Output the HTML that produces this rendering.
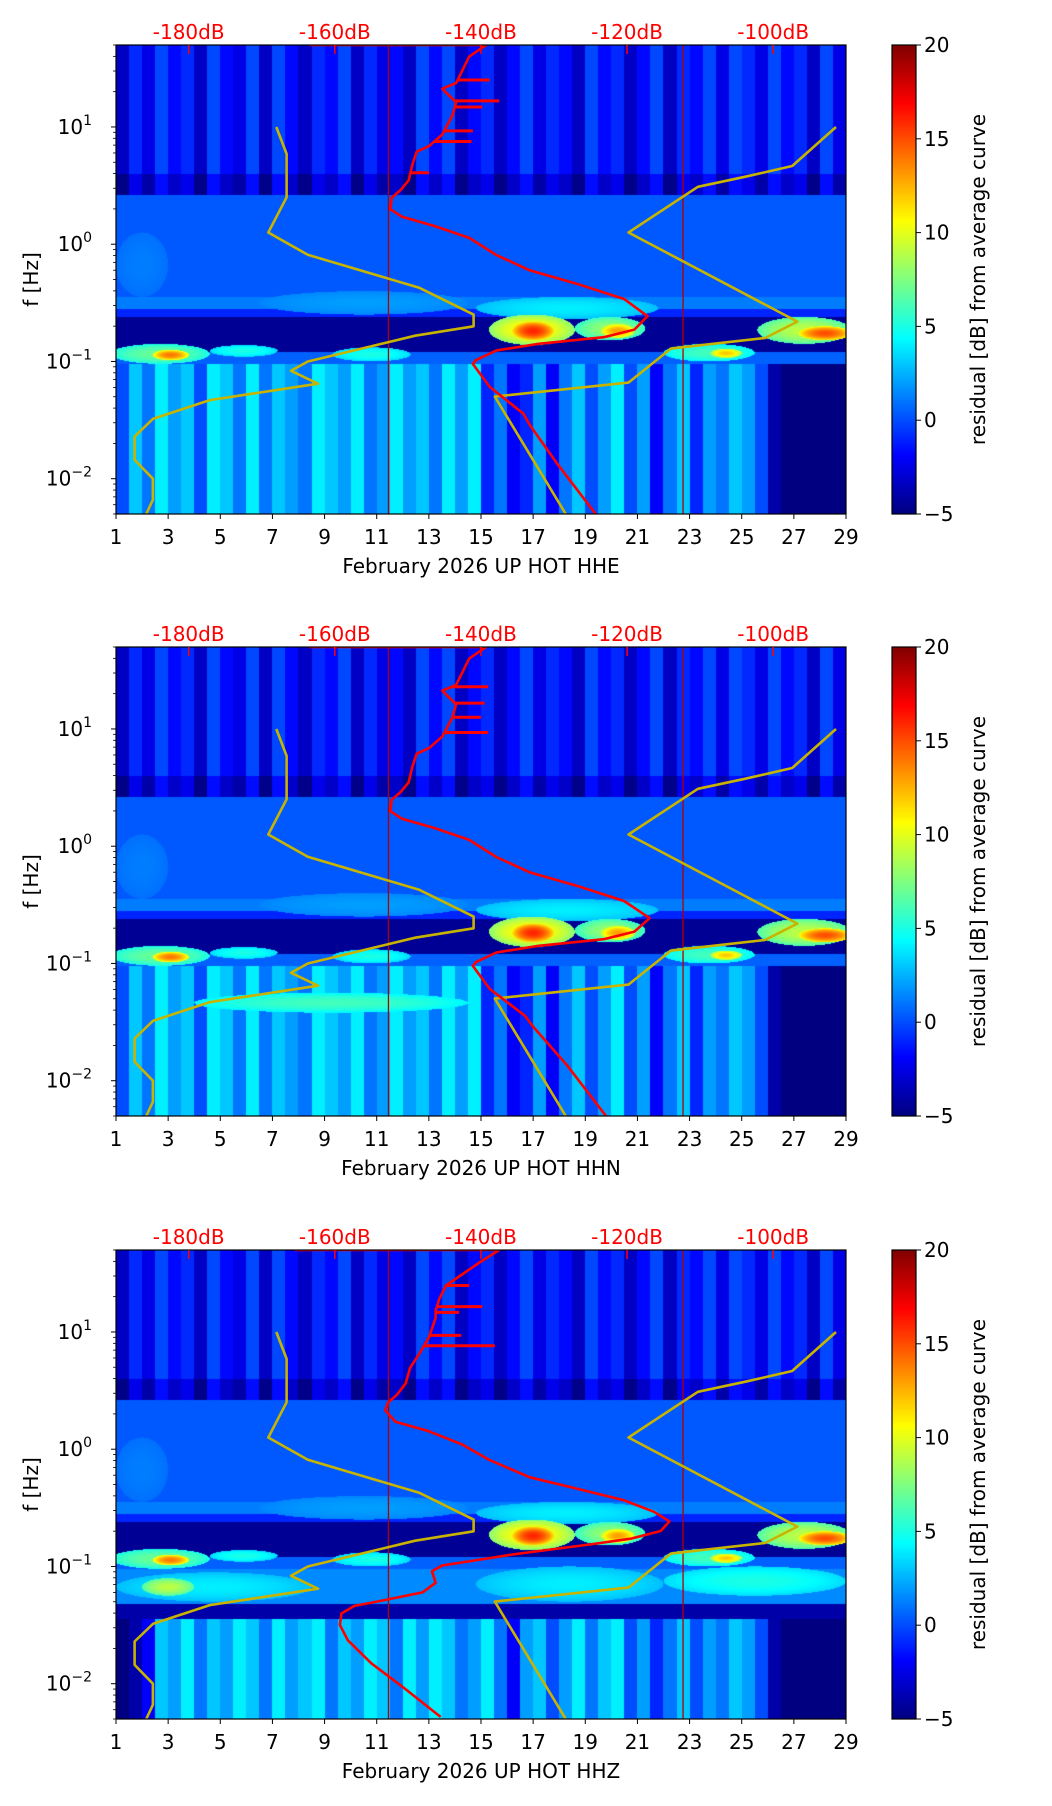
<!DOCTYPE html>
<html><head><meta charset="utf-8">
<style>
html,body{margin:0;padding:0;background:#fff;}
#wrap{position:relative;width:1052px;height:1806px;overflow:hidden;font-family:"DejaVu Sans","Liberation Sans",sans-serif;}
canvas{position:absolute;}
svg{position:absolute;left:0;top:0;}
</style></head>
<body>
<div id="wrap">
<svg id="svg" width="1052" height="1806"></svg>
</div>
<script>
// ---------- data ----------
const dayTicks=[1,3,5,7,9,11,13,15,17,19,21,23,25,27,29];
const dbTicks=[-180,-160,-140,-120,-100];
const cbTicks=[-5,0,5,10,15,20];
const yDecades=[1,0,-1,-2];
const panelNames=['HHE','HHN','HHZ'];

const redDbE=[-163.5,-139.3,-141.6,-143.4,-145.3,-143.4,-143.9,-145.3,-147.1,-148.8,-149.4,-149.9,-151.0,-152.2,-152.4,-150.8,-146.2,-141.6,-137.9,-133.3,-126.9,-120.4,-117.2,-119.0,-123.2,-132.4,-137.9,-140.7,-141.1,-138.8,-134.2,-133.3,-129.6,-124.3];
const redLfE=[1.699,1.699,1.60,1.375,1.326,1.21,1.098,0.935,0.837,0.788,0.674,0.544,0.462,0.397,0.299,0.234,0.152,0.054,-0.092,-0.223,-0.337,-0.467,-0.614,-0.728,-0.793,-0.852,-0.907,-0.989,-1.022,-1.217,-1.445,-1.543,-1.869,-2.30];
const spikeLfE=[1.40,1.222,1.17,0.967,0.876,0.609];
const spikeDbE=[-138.8,-137.5,-139.8,-141.1,-141.3,-147.1];

const redDbN=[-163.5,-139.3,-141.6,-143.4,-145.3,-143.4,-143.9,-145.3,-147.1,-148.8,-149.4,-149.9,-151.0,-152.2,-152.4,-150.8,-146.2,-141.6,-137.9,-133.3,-126.9,-120.4,-116.9,-119.0,-123.2,-132.4,-137.9,-140.7,-141.1,-138.8,-134.0,-132.8,-128.2,-122.9];
const redLfN=[1.699,1.699,1.60,1.375,1.326,1.21,1.098,0.935,0.837,0.788,0.674,0.544,0.462,0.397,0.299,0.234,0.152,0.054,-0.092,-0.223,-0.337,-0.467,-0.614,-0.728,-0.793,-0.852,-0.907,-0.989,-1.022,-1.217,-1.445,-1.543,-1.869,-2.30];
const spikeLfN=[1.36,1.22,1.10,0.97];
const spikeDbN=[-139.0,-139.5,-140.0,-139.0];

const redDbZ=[-165.5,-137.5,-140.2,-142.5,-144.8,-145.7,-146.2,-146.2,-147.1,-148.5,-149.7,-150.3,-151.5,-152.7,-153.1,-151.7,-147.1,-142.5,-138.8,-133.3,-127.8,-120.4,-116.3,-114.2,-115.4,-119.5,-125.0,-135.2,-145.3,-146.7,-146.2,-148.0,-154.5,-157.3,-159.1,-159.3,-158.2,-155.0,-150.8,-145.5];
const redLfZ=[1.699,1.699,1.592,1.494,1.396,1.281,1.183,1.118,0.954,0.807,0.692,0.562,0.464,0.398,0.333,0.235,0.153,0.038,-0.093,-0.240,-0.322,-0.436,-0.534,-0.616,-0.698,-0.763,-0.812,-0.894,-0.992,-1.041,-1.139,-1.221,-1.303,-1.336,-1.401,-1.499,-1.630,-1.826,-2.023,-2.284];
const spikeLfZ=[1.396,1.216,1.167,0.971,0.882];
const spikeDbZ=[-141.6,-139.8,-143.0,-142.7,-138.1];

const nlnmDb=[-168.0,-166.6,-166.6,-169.1,-163.7,-148.5,-141.0,-141.0,-149.0,-163.7,-166.0,-162.3,-177.1,-184.9,-187.4,-187.4,-184.9,-184.9,-185.8];
const nlnmLf=[1,0.77,0.40,0.10,-0.09,-0.37,-0.60,-0.70,-0.78,-1.0,-1.08,-1.19,-1.33,-1.49,-1.64,-1.84,-2.0,-2.18,-2.30];
const nhnmDb=[-91.4,-97.4,-103.8,-110.3,-119.8,-96.7,-101.1,-114.0,-119.8,-138.1,-128.4];
const nhnmLf=[1,0.667,0.576,0.49,0.10,-0.66,-0.80,-0.89,-1.18,-1.30,-2.30];

// spectrogram residual values (dB), per half-day
const highVals=[-1,2,0,3,1,2,-1,3,1,0,3,-1,3,1,-1,2,1,3,-1,2,0,1,-1,3,1,3,-1,1,2,-1,1,3,0,2,1,-1,3,1,2,-1,1,3,-1,2,1,3,0,3,2,0,3,1,2,-1,3,0];
const lowValsEN=[1,4,2,5,3,4,1,5,4,2,5,2,4,3,2,5,4,3,5,2,3,5,3,4,2,5,3,5,0,2,-1,0,3,-1,2,4,1,3,5,1,3,-1,2,4,0,3,2,4,3,1,-3,-5,-5,-4,-5,-4];
const lowValsZ=[-4,-3,-1,4,3,5,2,4,3,5,4,2,5,3,4,5,2,4,3,5,4,2,5,3,5,4,2,3,5,2,-1,3,4,1,3,5,2,4,5,1,3,0,2,4,1,3,2,4,3,1,-3,-5,-5,-4,-5,-4];
// blobs: day start, day end, log f low, log f high, value
const blobD0=[14.8,15.3,16.2,18.6,19.6,25.6,27.2,0.8,2.4,4.6,9.3,22,23.8,6.5,1];
const blobD1=[21.8,18.6,17.8,21.3,20.9,29.2,29.2,4.6,3.8,7.2,12.3,25.5,25,14.5,3];
const blobL0=[-0.64,-0.86,-0.82,-0.82,-0.8,-0.85,-0.82,-1.02,-0.99,-0.96,-1.0,-1.0,-0.97,-0.6,-0.45];
const blobL1=[-0.45,-0.6,-0.66,-0.62,-0.68,-0.62,-0.7,-0.85,-0.9,-0.86,-0.88,-0.85,-0.89,-0.4,0.1];
const blobV=[4,11,16,8,13,9,15,7,14,5,5,6,12,2,1.2];
const extraD0N=[4],extraD1N=[14.5],extraL0N=[-1.42],extraL1N=[-1.25],extraVN=[6];
const extraD0Z=[1,2,14.8,22],extraD1Z=[8.5,4,22,29],extraL0Z=[-1.3,-1.25,-1.3,-1.25],extraL1Z=[-1.05,-1.1,-1.0,-1.0],extraVZ=[4,9,4,5];

// ---------- layout ----------
const L=116,W=730,H=469,TOPS=[45,647,1250];
const LFMIN=Math.log10(0.005),LFMAX=Math.log10(50);
const xDay=d=>L+(d-1)/28*W;
const yLf=(top,lf)=>top+(LFMAX-lf)/(LFMAX-LFMIN)*H;
const xDb=db=>xDay(3.787+(db+180)/80*22.42);
const CBX=892,CBW=24,FS=20;

function jet(t){t=Math.max(0,Math.min(1,t));const c=v=>Math.max(0,Math.min(1,v));
 return [c(1.5-Math.abs(4*t-3))*255,c(1.5-Math.abs(4*t-2))*255,c(1.5-Math.abs(4*t-1))*255];}

const svg=document.getElementById('svg');const NS='http://www.w3.org/2000/svg';
function mk(tag,attrs,parent){const e=document.createElementNS(NS,tag);for(const k in attrs)e.setAttribute(k,attrs[k]);(parent||svg).appendChild(e);return e;}

const panels=[
 {low:lowValsEN,zb:false,d0:blobD0,d1:blobD1,l0:blobL0,l1:blobL1,v:blobV,red:[redDbE,redLfE],sp:[spikeLfE,spikeDbE]},
 {low:lowValsEN,zb:false,d0:blobD0.concat(extraD0N),d1:blobD1.concat(extraD1N),l0:blobL0.concat(extraL0N),l1:blobL1.concat(extraL1N),v:blobV.concat(extraVN),red:[redDbN,redLfN],sp:[spikeLfN,spikeDbN]},
 {low:lowValsZ,zb:true,d0:blobD0.concat(extraD0Z),d1:blobD1.concat(extraD1Z),l0:blobL0.concat(extraL0Z),l1:blobL1.concat(extraL1Z),v:blobV.concat(extraVZ),red:[redDbZ,redLfZ],sp:[spikeLfZ,spikeDbZ]}
];

function value(p,d,lf){
 const hd=Math.max(0,Math.min(55,Math.floor((d-1)*2)));
 let v;
 if(lf>0.42)v=highVals[hd]*0.8-2.5-(lf<0.6?1.5:0);
 else if(lf>-0.45)v=0.3;
 else if(lf>-0.55)v=1.2;
 else if(lf>-0.62)v=-1;
 else if(lf>-0.92)v=-4.5;
 else if(lf>-1.02)v=0.5;
 else if(p.zb&&lf>-1.45)v=lf>-1.32?1.5:-4;
 else v=p.low[hd]-1;
 for(let i=0;i<p.v.length;i++){
  const cx=(p.d0[i]+p.d1[i])/2,rx=(p.d1[i]-p.d0[i])/2,cy=(p.l0[i]+p.l1[i])/2,ry=(p.l1[i]-p.l0[i])/2;
  const r=((d-cx)/rx)**2+((lf-cy)/ry)**2;
  if(r<1)v=Math.max(v,p.v[i]*(1-0.3*r));
 }
 return v;
}

function polyPts(top,dbs,lfs){return dbs.map((db,i)=>xDb(db).toFixed(1)+','+yLf(top,lfs[i]).toFixed(1)).join(' ');}
function interpDb(dbs,lfs,lf){for(let i=0;i<lfs.length-1;i++){const a=lfs[i],b=lfs[i+1];if((lf<=a&&lf>=b)){const t=(a===b)?0:(a-lf)/(a-b);return dbs[i]+t*(dbs[i+1]-dbs[i]);}}return dbs[dbs.length-1];}

panels.forEach((p,pi)=>{
 const top=TOPS[pi];
 const cv=document.createElement('canvas');cv.width=W;cv.height=H;cv.style.left=L+'px';cv.style.top=top+'px';
 
 
 document.getElementById('wrap').insertBefore(cv,svg);
 const ctx=cv.getContext('2d');const img=ctx.createImageData(W,H);
 for(let y=0;y<H;y++){const lf=LFMAX-(y+0.5)/H*(LFMAX-LFMIN);
  for(let x=0;x<W;x++){const d=1+(x+0.5)/W*28;const c=jet((value(p,d,lf)+5)/25);const o=(y*W+x)*4;
   img.data[o]=c[0];img.data[o+1]=c[1];img.data[o+2]=c[2];img.data[o+3]=255;}}
 ctx.putImageData(img,0,0);

 const g=mk('g',{});
 const cid='clip'+pi;const cp=mk('clipPath',{id:cid},g);mk('rect',{x:L,y:top,width:W,height:H},cp);
 const cg=mk('g',{'clip-path':'url(#'+cid+')'},g);
 [11.45,22.75].forEach(d=>{const ln=mk('line',{x1:xDay(d),x2:xDay(d),y1:top,y2:top+H,stroke:'#b00000','stroke-width':1.3},cg);});
 const nl=mk('polyline',{points:polyPts(top,nlnmDb,nlnmLf),fill:'none',stroke:'#c8b400','stroke-width':2.6,'stroke-linejoin':'round'},cg);
 
 const nh=mk('polyline',{points:polyPts(top,nhnmDb,nhnmLf),fill:'none',stroke:'#c8b400','stroke-width':2.6,'stroke-linejoin':'round'},cg);
 
 const rd=mk('polyline',{points:polyPts(top,p.red[0],p.red[1]),fill:'none',stroke:'#ff0000','stroke-width':2.6,'stroke-linejoin':'round'},cg);
 
 p.sp[0].forEach((lf,i)=>{const b=interpDb(p.red[0],p.red[1],lf);const s=mk('line',{x1:xDb(b),x2:xDb(p.sp[1][i]),y1:yLf(top,lf),y2:yLf(top,lf),stroke:'#ff0000','stroke-width':3},cg);
  });
 const fr=mk('rect',{x:L,y:top,width:W,height:H,fill:'none',stroke:'#000','stroke-width':1.2},g);
 dbTicks.forEach(db=>{const x=xDb(db);mk('line',{x1:x,x2:x,y1:top,y2:top+9,stroke:'#ff0000','stroke-width':1.5},g);
  const t=mk('text',{x:x,y:top-6,'text-anchor':'middle','font-size':FS,fill:'#ff0000'},g);t.textContent=db+'dB';
  });
 dayTicks.forEach(d=>{const x=xDay(d);mk('line',{x1:x,x2:x,y1:top+H,y2:top+H+5,stroke:'#000','stroke-width':1},g);
  const t=mk('text',{x:x,y:top+H+30,'text-anchor':'middle','font-size':FS,fill:'#000'},g);t.textContent=d;
  });
 const xl=mk('text',{x:L+W/2,y:top+H+59,'text-anchor':'middle','font-size':FS,fill:'#000'},g);xl.textContent='February 2026 UP HOT  '+panelNames[pi];
 
 for(let k=-3;k<=1;k++)for(let m=1;m<=9;m++){const lf=k+Math.log10(m);if(lf<LFMIN||lf>LFMAX)continue;const y=yLf(top,lf);
  mk('line',{x1:L-(m===1?5:3),x2:L,y1:y,y2:y,stroke:'#000','stroke-width':m===1?1:0.8},g);}
 yDecades.forEach(k=>{const y=yLf(top,k);const t=mk('text',{x:L-24,y:y+7,'text-anchor':'end','font-size':FS,fill:'#000'},g);
  t.textContent='10';const s=mk('tspan',{'font-size':14,dy:-9},t);s.textContent=k<0?'\u2212'+(-k):''+k;
  });
 const yl=mk('text',{x:0,y:0,transform:'translate(38,'+(top+H/2)+') rotate(-90)','text-anchor':'middle','font-size':FS,fill:'#000'},g);yl.textContent='f [Hz]';
 
 const cb=document.createElement('canvas');cb.width=CBW;cb.height=H;cb.style.left=CBX+'px';cb.style.top=top+'px';
 
 document.getElementById('wrap').insertBefore(cb,svg);
 const cx2=cb.getContext('2d');for(let y=0;y<H;y++){const c=jet(1-(y+0.5)/H);cx2.fillStyle='rgb('+c.map(Math.round).join(',')+')';cx2.fillRect(0,y,CBW,1);}
 mk('rect',{x:CBX,y:top,width:CBW,height:H,fill:'none',stroke:'#000','stroke-width':1.2},g);
 cbTicks.forEach(v=>{const y=top+H-(v+5)/25*H;mk('line',{x1:CBX+CBW,x2:CBX+CBW+5,y1:y,y2:y,stroke:'#000'},g);
  const t=mk('text',{x:CBX+CBW+8,y:y+7,'font-size':FS,fill:'#000'},g);t.textContent=v<0?'\u2212'+(-v):v;
  });
 const cl=mk('text',{x:0,y:0,transform:'translate(985,'+(top+H/2)+') rotate(-90)','text-anchor':'middle','font-size':FS,fill:'#000'},g);
 cl.textContent='residual [dB] from average curve';
});
</script>
</body></html>
